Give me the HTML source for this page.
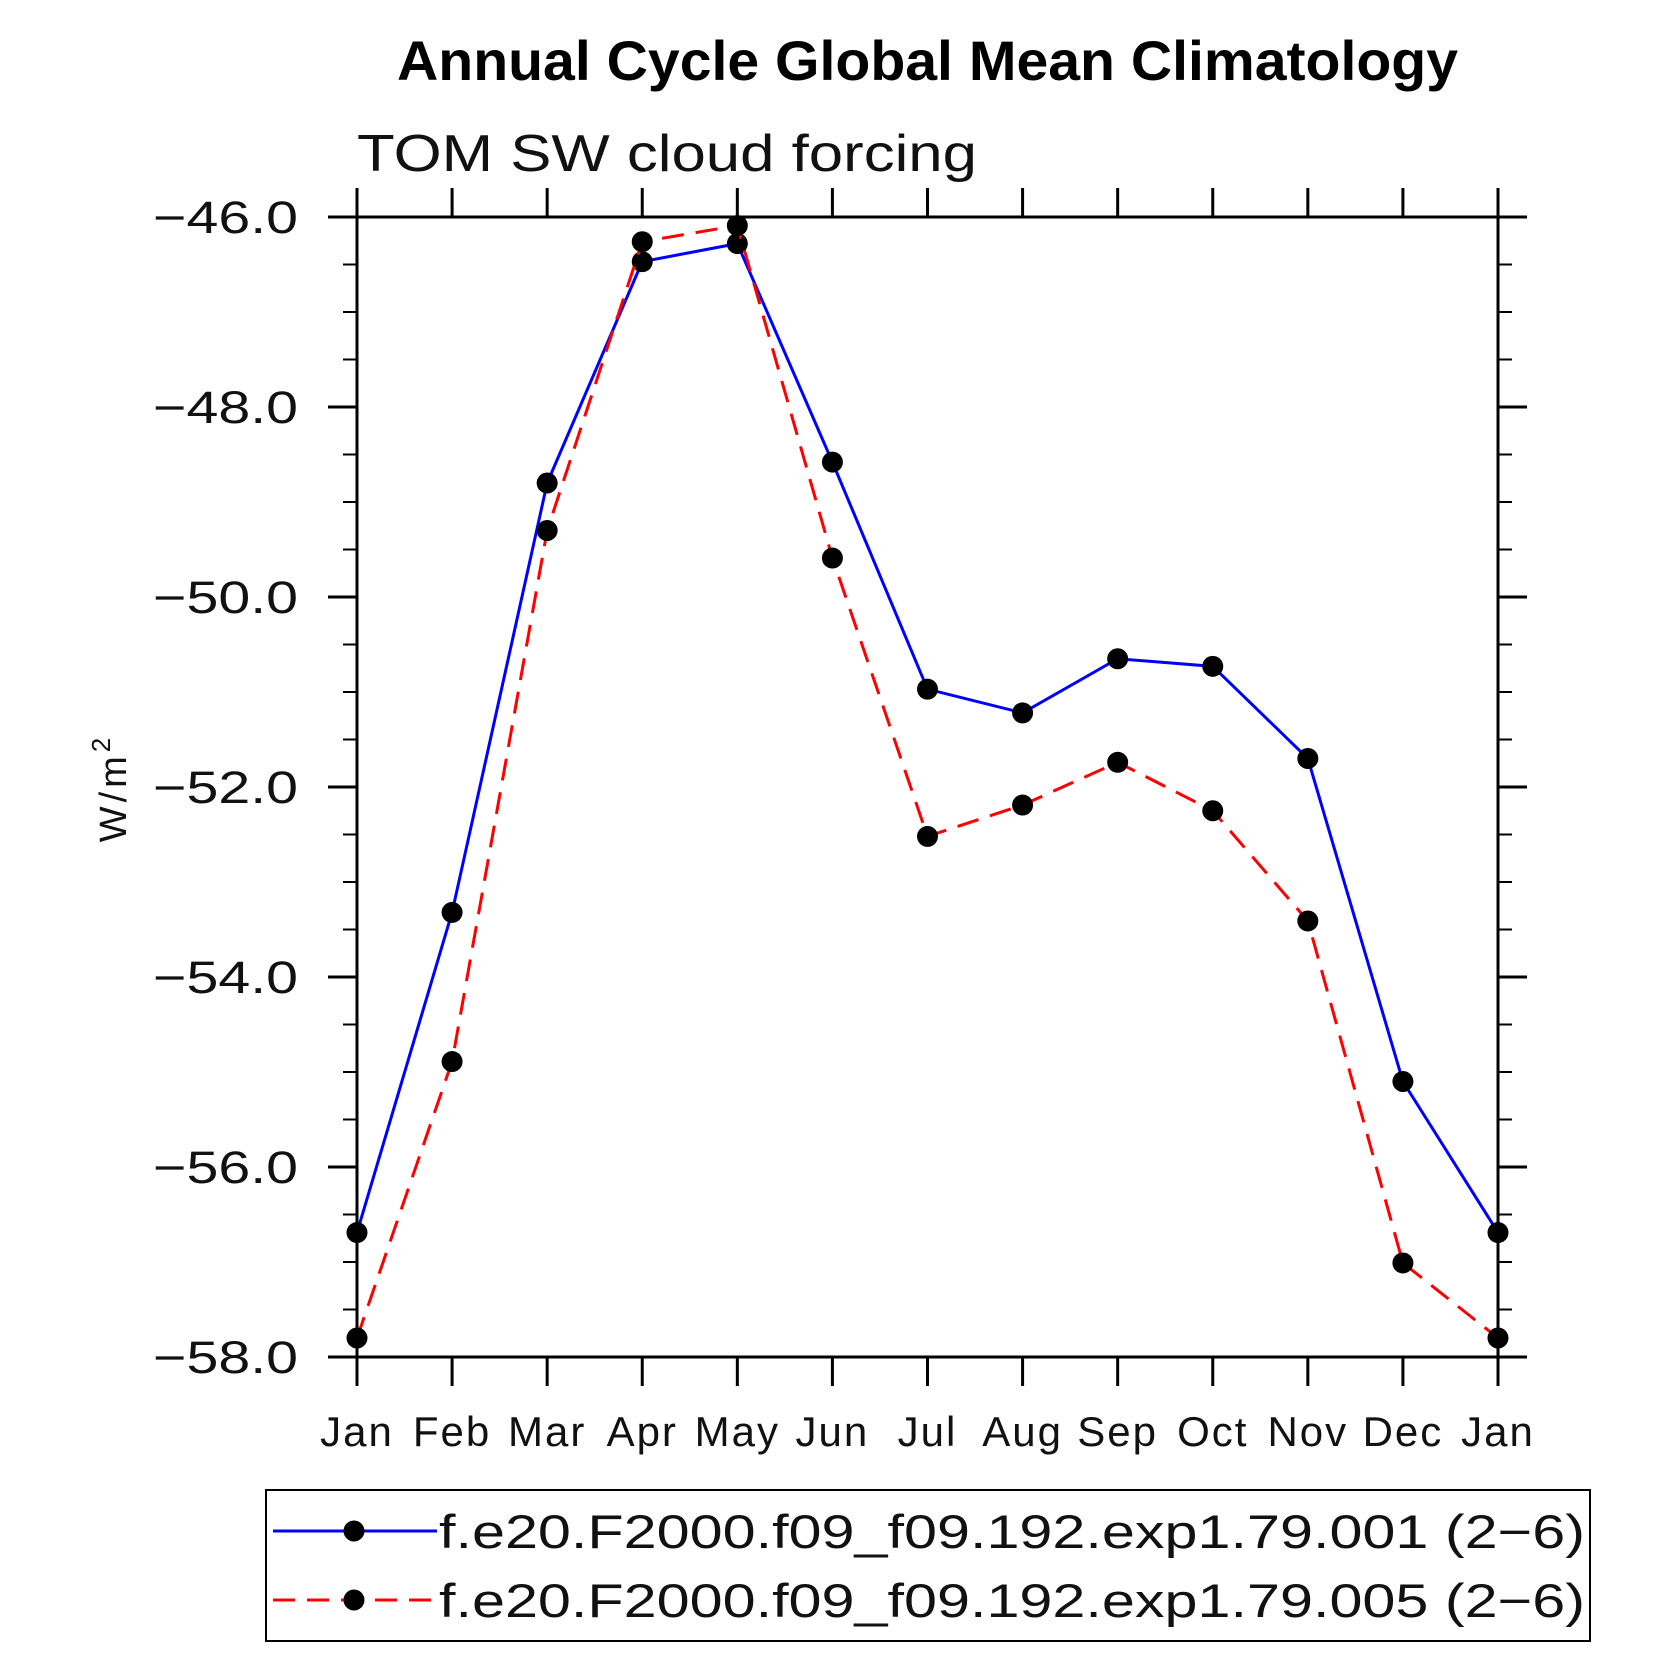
<!DOCTYPE html>
<html><head><meta charset="utf-8"><style>
html,body{margin:0;padding:0;background:#fff;}
svg{display:block;}
text{font-family:"Liberation Sans",sans-serif;}
</style></head><body>
<svg id="chart" width="1680" height="1680" viewBox="0 0 1680 1680">
<text x="397" y="80" font-size="56" font-weight="bold" textLength="1061" lengthAdjust="spacingAndGlyphs">Annual Cycle Global Mean Climatology</text>
<text x="357" y="171" font-size="52" fill="#111" textLength="620" lengthAdjust="spacingAndGlyphs">TOM SW cloud forcing</text>
<g transform="translate(126,788) rotate(-90)"><text x="0" y="0" text-anchor="middle" font-size="38" fill="#111" letter-spacing="4">W/m<tspan dy="-16" font-size="26">2</tspan></text></g>
<g id="axes"></g>
<g id="series"></g>
<g id="legend"></g>
</svg>
<script>
const months = ["Jan","Feb","Mar","Apr","May","Jun","Jul","Aug","Sep","Oct","Nov","Dec","Jan"];
const yTicks = [-46,-48,-50,-52,-54,-56,-58];
const yTickLabels = ["\u221246.0","\u221248.0","\u221250.0","\u221252.0","\u221254.0","\u221256.0","\u221258.0"];
const series001 = [-56.69,-53.32,-48.80,-46.47,-46.28,-48.58,-50.97,-51.22,-50.65,-50.73,-51.70,-55.10,-56.69];
const series005 = [-57.80,-54.89,-49.30,-46.26,-46.09,-49.59,-52.52,-52.19,-51.74,-52.25,-53.41,-57.01,-57.80];
const legendLabels = ["f.e20.F2000.f09_f09.192.exp1.79.001 (2\u22126)","f.e20.F2000.f09_f09.192.exp1.79.005 (2\u22126)"];

const L=357,R=1498,T=217,B=1357,yMax=-46,yMin=-58;
const NS="http://www.w3.org/2000/svg";
function xS(i){return L+(R-L)*i/(months.length-1);}
function yS(v){return T+(yMax-v)/(yMax-yMin)*(B-T);}
function mk(tag,attrs,parent){const e=document.createElementNS(NS,tag);for(const k in attrs)e.setAttribute(k,attrs[k]);parent.appendChild(e);return e;}
const axes=document.getElementById('axes');
const frame=mk('rect',{x:L,y:T,width:R-L,height:B-T,fill:'none',stroke:'#000','stroke-width':3},axes);


for(let v=yMin;v<=yMax+1e-9;v+=0.5){
  const y=yS(v);const major=Math.abs(v%2)<1e-9;const len=major?29:14;
  const t1=mk('line',{x1:L-len,x2:L,y1:y,y2:y,stroke:'#000','stroke-width':major?3:2},axes);
  
  
  const t2=mk('line',{x1:R,x2:R+len,y1:y,y2:y,stroke:'#000','stroke-width':major?3:2},axes);
  
  
}
yTicks.forEach((v,i)=>{
  const t=mk('text',{x:153,y:yS(v)+16,'font-size':45,fill:'#111',textLength:145,lengthAdjust:'spacingAndGlyphs'},axes);
  t.textContent=yTickLabels[i];
  
  
});
months.forEach((m,i)=>{
  const x=xS(i);
  const a=mk('line',{x1:x,x2:x,y1:T-29,y2:T,stroke:'#000','stroke-width':3},axes);
  
  
  const b=mk('line',{x1:x,x2:x,y1:B,y2:B+29,stroke:'#000','stroke-width':3},axes);
  
  
  const t=mk('text',{x:x,y:1446,'text-anchor':'middle','font-size':42,fill:'#111','letter-spacing':2},axes);
  t.textContent=m;
  
  
});
const sg=document.getElementById('series');
function drawSeries(vals,color,dash,name){
  const pts=vals.map((v,i)=>xS(i)+','+yS(v)).join(' ');
  const pl=mk('polyline',{points:pts,fill:'none',stroke:color,'stroke-width':3,'stroke-dasharray':dash},sg);
  
  
  vals.forEach((v,i)=>{
    const c=mk('circle',{cx:xS(i),cy:yS(v),r:10.5,fill:'#000'},sg);
    
    
  });
}
drawSeries(series001,'#0000ff','none','series-001');
drawSeries(series005,'#ff0000','22,12','series-005');
const lg=document.getElementById('legend');
const box=mk('rect',{x:266,y:1490,width:1324,height:151,fill:'#fff',stroke:'#000','stroke-width':2},lg);


[['#0000ff','none',1531],['#ff0000','22,12',1600]].forEach((s,i)=>{
  const ln=mk('line',{x1:273,x2:437,y1:s[2],y2:s[2],stroke:s[0],'stroke-width':3,'stroke-dasharray':s[1]},lg);
  
  
  const c=mk('circle',{cx:354,cy:s[2],r:10.5,fill:'#000'},lg);
  
  
  const t=mk('text',{x:439,y:s[2]+17,'font-size':47,fill:'#111',textLength:1146,lengthAdjust:'spacingAndGlyphs'},lg);
  t.textContent=legendLabels[i];
  
  
});
</script>
</body></html>
